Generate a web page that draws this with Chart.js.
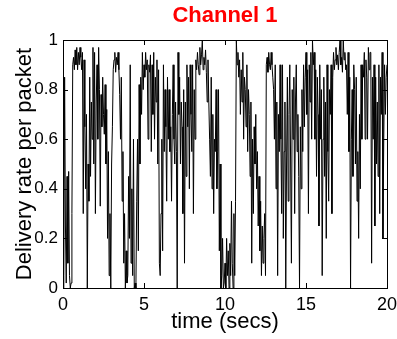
<!DOCTYPE html>
<html>
<head>
<meta charset="utf-8">
<script src="https://cdn.jsdelivr.net/npm/chart.js@4/dist/chart.umd.min.js"></script>
<style>
    html, body { margin: 0; padding: 0; background: #fff; }
    #wrap { width: 397px; height: 339px; }
</style>
</head>
<body>
<div id="wrap"><canvas id="deliveryChart" width="397" height="339"></canvas></div>
<script>
const chartTitle = 'Channel 1';
const xTitle = 'time (secs)';
const yTitle = 'Delivery rate per packet';
const xTicks = [0, 5, 10, 15, 20];
const yTicks = [0, 0.2, 0.4, 0.6, 0.8, 1];
const timeStep = 0.05; // secs between samples

// delivery rate, one row per half second
const deliveryRate = [
    0, 0.05, 0.85, 0.25, 0.02, 0.45, 0.1, 0.47, 0.05, 0,
    0.02, 0.3, 0.9, 0.93, 0.88, 0.96, 0.9, 0.97, 0.88, 0.95,
    0.9, 0.97, 0.93, 0.88, 0.95, 0.3, 0.92, 0.65, 0.4, 0.7,
    0, 0.5, 0.35, 0.85, 0.45, 0.75, 0.6, 0.97, 0.5, 0.95,
    0.3, 0.75, 0.9, 0.6, 0.97, 0.8, 0.33, 0.78, 0.65, 0.85,
    0.7, 0.62, 0.82, 0.5, 0.72, 0.2, 0.55, 0.05, 0.3, 0,
    0.5, 0.65, 0.88, 0.92, 0.95, 0.87, 0.93, 0.9, 0.95, 0.88,
    0.78, 0.6, 0.85, 0.35, 0.55, 0.1, 0.3, 0, 0.15, 0.02,
    0.05, 0.45, 0.2, 0.9, 0.1, 0.4, 0.05, 0.6, 0, 0.02,
    0, 0.35, 0.6, 0.15, 0.82, 0.5, 0.85, 0.7, 0.95, 0.8,
    0.9, 0.85, 0.95, 0.88, 0.92, 0.6, 0.9, 0.87, 0.94, 0.55,
    0.9, 0.7, 0.95, 0.6, 0.85, 0.75, 0.92, 0.5, 0.88, 0.1,
    0.05, 0.3, 0.6, 0.15, 0.9, 0.55, 0.8, 0.65, 0.35, 0.85,
    0.6, 0.8, 0.55, 0.65, 0.35, 0.7, 0.9, 0.6, 0.5, 0.75,
    0.55, 0, 0.95, 0.7, 0.85, 0.5, 0.75, 0.65, 0.3, 0.8,
    0.1, 0.75, 0.45, 0.9, 0.65, 0.85, 0.4, 0.9, 0.7, 0.55,
    0.9, 0.3, 0.8, 0.6, 0.92, 0.88, 0.95, 0.9, 0.86, 0.97,
    0.9, 0.94, 1, 0.88, 0.93, 0.9, 0.96, 0.87, 0.75, 0.92,
    0.75, 0.6, 0.45, 0.85, 0.4, 0.7, 0.3, 0.6, 0.55, 0.8,
    0.4, 0.55, 0.8, 0.15, 0.5, 0, 0.05, 0.2, 0, 0.02,
    0.1, 0, 0.2, 0.05, 0.15, 0, 0.18, 0.05, 0.35, 0.1,
    0, 0.3, 0.05, 0.35, 1, 0.9, 0.95, 0.85, 0.92, 0.7,
    0.88, 0.75, 0.95, 0.6, 0.85, 0.8, 0.65, 0.9, 0.55, 0.8,
    0.7, 0.45, 0.75, 0.1, 0.6, 0.3, 0.65, 0.5, 0.7, 0.4,
    0.55, 0.25, 0.45, 0.15, 0.35, 0.05, 0.25, 0.1, 0.2, 0.3,
    0.05, 0.9, 0.93, 0.87, 0.95, 0.9, 0.88, 0.95, 0.9, 0.85,
    0.8, 0.6, 0.9, 0.4, 0.75, 0.05, 0.7, 0.55, 0.9, 0.6,
    0.3, 0.9, 0.2, 0.55, 0.75, 0, 0.5, 0.85, 0.35, 0.7,
    0.9, 0.5, 0.1, 0.8, 0.6, 0.85, 0.3, 0.75, 0.9, 0.55,
    0.7, 0.45, 0, 0.65, 0.4, 0.8, 0.55, 0.9, 0.65, 0.85,
    0.95, 0.7, 0.88, 0.3, 0.9, 0.75, 0.95, 0.6, 1, 0.9,
    0.95, 0.6, 0.88, 0.45, 0.85, 0.7, 0.25, 0.9, 0.6, 0.8,
    0.05, 0.6, 0.85, 0.45, 0.75, 0.2, 0.9, 0.55, 0.35, 0.8,
    0.7, 0.9, 0.3, 0.85, 0.95, 0.88, 0.92, 0.97, 0.9, 0.94,
    0.88, 0.95, 1, 0.9, 0.93, 0.87, 1, 0.92, 0.95, 0.88,
    0.9, 0.7, 0.95, 0.55, 0.85, 0, 0.6, 0.8, 0.45, 0.9,
    0.8, 0.5, 0.85, 0.35, 0.55, 0.2, 0.7, 0.4, 0.9, 0.6,
    0.9, 0.85, 0.95, 0.6, 0.92, 0.85, 0.6, 0.97, 0.88, 0.95,
    0.95, 0.1, 0.85, 0.6, 0.9, 0.25, 0.85, 0.5, 0.75, 0.45,
    0.9, 0.3, 0.85, 0.7, 0.95, 0.2, 0.6, 0.9, 0.7, 0.85,
    0.9
];

const FONT = '"Liberation Sans", Arial, Helvetica, sans-serif';

// MATLAB style box with inward ticks on all four sides, plus the red title
const boxPlugin = {
    id: 'matlabBox',
    afterDraw(chart) {
        const { ctx, chartArea: a, scales } = chart;
        const len = 5;
        ctx.save();
        ctx.strokeStyle = '#000';
        ctx.lineWidth = 1;
        ctx.strokeRect(Math.round(a.left) + 0.5, Math.round(a.top) + 0.5,
            Math.round(a.right - a.left), Math.round(a.bottom - a.top));
        ctx.beginPath();
        xTicks.forEach((t) => {
            const px = Math.round(scales.x.getPixelForValue(t)) + 0.5;
            ctx.moveTo(px, a.bottom); ctx.lineTo(px, a.bottom - len);
            ctx.moveTo(px, a.top); ctx.lineTo(px, a.top + len);
        });
        yTicks.forEach((t) => {
            const py = Math.round(scales.y.getPixelForValue(t)) + 0.5;
            ctx.moveTo(a.left, py); ctx.lineTo(a.left + len, py);
            ctx.moveTo(a.right, py); ctx.lineTo(a.right - len, py);
        });
        ctx.stroke();

        ctx.fillStyle = '#ff0000';
        ctx.font = `bold 22px ${FONT}`;
        ctx.textAlign = 'center';
        ctx.textBaseline = 'middle';
        ctx.fillText(chartTitle, (a.left + a.right) / 2, 16);
        ctx.restore();
    }
};

new Chart(document.getElementById('deliveryChart'), {
    type: 'line',
    data: {
        datasets: [{
            data: deliveryRate.map((v, i) => ({ x: i * timeStep, y: v })),
            borderColor: '#000',
            borderWidth: 1,
            pointRadius: 0,
            tension: 0,
            fill: false
        }]
    },
    options: {
        responsive: false,
        animation: false,
        layout: { padding: { top: 40, right: 10, left: 0, bottom: 0 } },
        plugins: {
            legend: { display: false },
            title: { display: false },
            tooltip: { enabled: false }
        },
        scales: {
            x: {
                type: 'linear',
                min: 0,
                max: 20,
                afterBuildTicks: (scale) => { scale.ticks = xTicks.map((v) => ({ value: v })); },
                afterFit: (scale) => {
                    scale.height = 51;
                    scale.paddingLeft = 0;
                    scale.paddingRight = 0;
                },
                grid: { display: false, drawTicks: false },
                border: { display: false },
                ticks: {
                    color: '#000',
                    padding: 6,
                    maxRotation: 0,
                    font: { family: FONT, size: 18 }
                },
                title: {
                    display: true,
                    text: xTitle,
                    color: '#000',
                    padding: { top: 0, bottom: 4 },
                    font: { family: FONT, size: 22 }
                }
            },
            y: {
                type: 'linear',
                min: 0,
                max: 1,
                afterBuildTicks: (scale) => { scale.ticks = yTicks.map((v) => ({ value: v })); },
                afterFit: (scale) => {
                    scale.width = 63;
                    scale.paddingTop = 0;
                    scale.paddingBottom = 0;
                },
                grid: { display: false, drawTicks: false },
                border: { display: false },
                ticks: {
                    color: '#000',
                    padding: 5,
                    font: { family: FONT, size: 17 },
                    callback: (v) => String(Math.round(v * 10) / 10)
                },
                title: {
                    display: true,
                    text: yTitle,
                    color: '#000',
                    padding: { top: 12, bottom: 0 },
                    font: { family: FONT, size: 22 }
                }
            }
        }
    },
    plugins: [boxPlugin]
});
</script>
</body>
</html>
